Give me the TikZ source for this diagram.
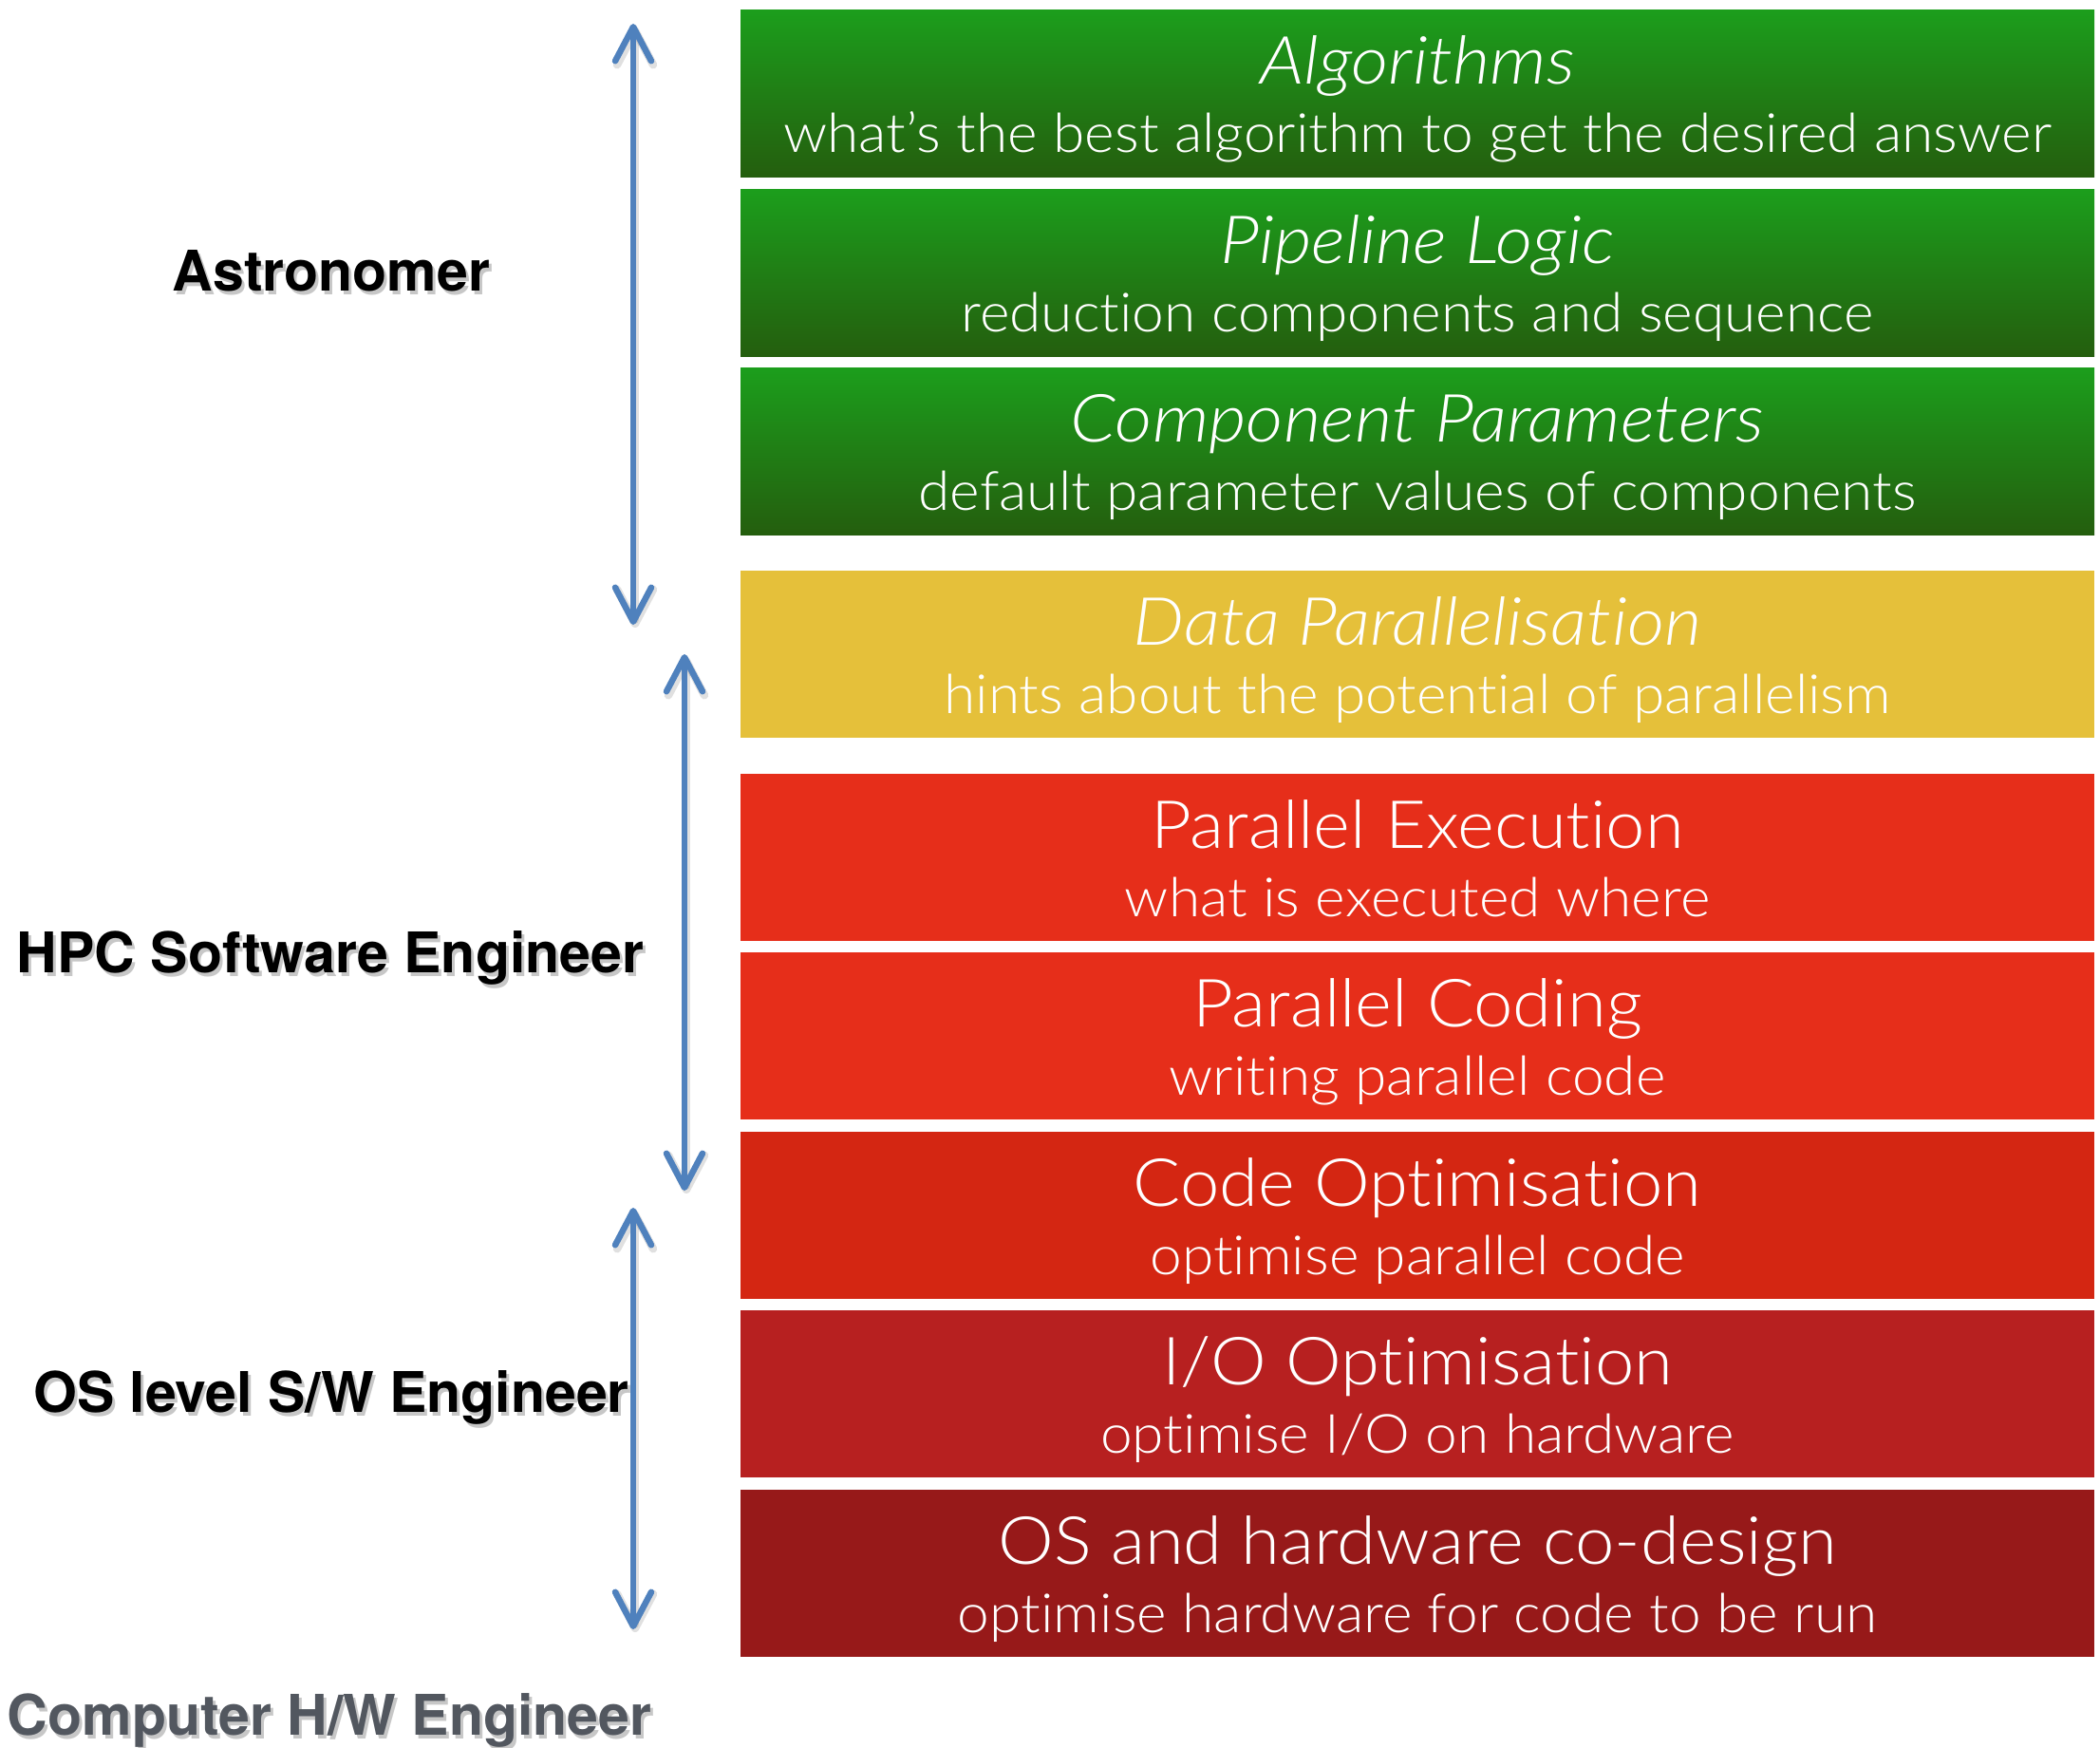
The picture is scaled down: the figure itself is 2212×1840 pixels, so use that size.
\documentclass[tikz,border=0pt]{standalone}
\usepackage{fontspec}
\usetikzlibrary{arrows.meta,calc}
\newfontfamily\lblfont{TeX Gyre Heros}
\newfontfamily\boxfont{Lato Light}[
  Ligatures=NoCommon, FakeStretch=1.06,
  ItalicFont={Lato Light Italic},
  ItalicFeatures={FakeStretch=1.09}]

\definecolor{grntop}{RGB}{28,158,28}
\definecolor{grnbot}{RGB}{36,94,14}
\definecolor{ylw}{RGB}{229,192,58}
\definecolor{redA}{RGB}{230,46,26}
\definecolor{redB}{RGB}{212,38,18}
\definecolor{redC}{RGB}{183,32,32}
\definecolor{redD}{RGB}{151,25,25}
\definecolor{arrowblue}{RGB}{79,129,189}
\definecolor{hwgray}{RGB}{82,87,95}

\begin{document}
\begin{tikzpicture}[x=1pt,y=-1pt,
  layer/.style={draw=none, minimum width=1426pt, minimum height=176pt,
    anchor=north west, inner sep=0pt, outer sep=0pt},
  green layer/.style={layer, top color=grntop, bottom color=grnbot},
  ttl/.style={anchor=base, text=white, inner sep=0pt,
    font=\boxfont\fontsize{70}{84}\selectfont},
  sub/.style={anchor=base, text=white, inner sep=0pt,
    font=\boxfont\fontsize{57}{68}\selectfont},
  role/.style={anchor=base, inner sep=0pt,
    font=\lblfont\bfseries\fontsize{59}{70}\selectfont},
  roleshadow/.style={role, text=black, opacity=0.22},
  span/.style={draw=arrowblue, line width=6.5pt, line cap=round,
    >={Straight Barb[length=36pt,width=38pt,round]}, <->},
  spanshadow/.style={draw=black, opacity=0.12, line width=8.5pt, line cap=round,
    >={Straight Barb[length=36pt,width=38pt,round]}, <->},
]
\useasboundingbox (0,0) rectangle (2212,1840);

% stack of layers
\node[green layer] (b1) at (780,10) {};
\node[green layer] (b2) at (780,199) {};
\node[green layer] (b3) at (780,387) {};
\node[layer, fill=ylw] (b4) at (780,601) {};
\node[layer, fill=redA] (b5) at (780,815) {};
\node[layer, fill=redA] (b6) at (780,1003) {};
\node[layer, fill=redB] (b7) at (780,1192) {};
\node[layer, fill=redC] (b8) at (780,1380) {};
\node[layer, fill=redD] (b9) at (780,1569) {};

\node[ttl] (t1) at ($(b1.north)+(0,78)$) {\itshape Algorithms};
\node[sub] (s1) at ($(b1.north)+(0,150)$) {what’s the best algorithm to get the desired answer};
\node[ttl] (t2) at ($(b2.north)+(0,78)$) {\itshape Pipeline Logic};
\node[sub] (s2) at ($(b2.north)+(0,150)$) {reduction components and sequence};
\node[ttl] (t3) at ($(b3.north)+(0,78)$) {\itshape Component Parameters};
\node[sub] (s3) at ($(b3.north)+(0,150)$) {default parameter values of components};
\node[ttl] (t4) at ($(b4.north)+(0,78)$) {\itshape Data Parallelisation};
\node[sub] (s4) at ($(b4.north)+(0,150)$) {hints about the potential of parallelism};
\node[ttl] (t5) at ($(b5.north)+(0,78)$) {Parallel Execution};
\node[sub] (s5) at ($(b5.north)+(0,150)$) {what is executed where};
\node[ttl] (t6) at ($(b6.north)+(0,78)$) {Parallel Coding};
\node[sub] (s6) at ($(b6.north)+(0,150)$) {writing parallel code};
\node[ttl] (t7) at ($(b7.north)+(0,78)$) {Code Optimisation};
\node[sub] (s7) at ($(b7.north)+(0,150)$) {optimise parallel code};
\node[ttl] (t8) at ($(b8.north)+(0,78)$) {I/O Optimisation};
\node[sub] (s8) at ($(b8.north)+(0,150)$) {optimise I/O on hardware};
\node[ttl] (t9) at ($(b9.north)+(0,78)$) {OS and hardware co-design};
\node[sub] (s9) at ($(b9.north)+(0,150)$) {optimise hardware for code to be run};

% extent of each role
\coordinate (a1t) at (667,25);
\coordinate (a1b) at (667,658);
\coordinate (a2t) at (721,689);
\coordinate (a2b) at (721,1254);
\coordinate (a3t) at (667,1272);
\coordinate (a3b) at (667,1716);

\begin{scope}[transform canvas={shift={(2pt,-3pt)}}]
  \draw[spanshadow] (a1t) -- (a1b);
  \draw[spanshadow] (a2t) -- (a2b);
  \draw[spanshadow] (a3t) -- (a3b);
\end{scope}
\draw[span] (a1t) -- (a1b);
\draw[span] (a2t) -- (a2b);
\draw[span] (a3t) -- (a3b);

% role labels with soft shadows
\node[roleshadow] (r1s) at (352,310) {Astronomer};
\node[roleshadow] (r2s) at (351,1028) {HPC Software Engineer};
\node[roleshadow] (r3s) at (352,1491) {OS level S/W Engineer};
\node[roleshadow] (r4s) at (350,1831) {Computer H/W Engineer};
\node[role] (r1) at (349,306) {Astronomer};
\node[role] (r2) at (348,1024) {HPC Software Engineer};
\node[role] (r3) at (349,1487) {OS level S/W Engineer};
\node[role, text=hwgray] (r4) at (347,1827) {Computer H/W Engineer};
\end{tikzpicture}
\end{document}
